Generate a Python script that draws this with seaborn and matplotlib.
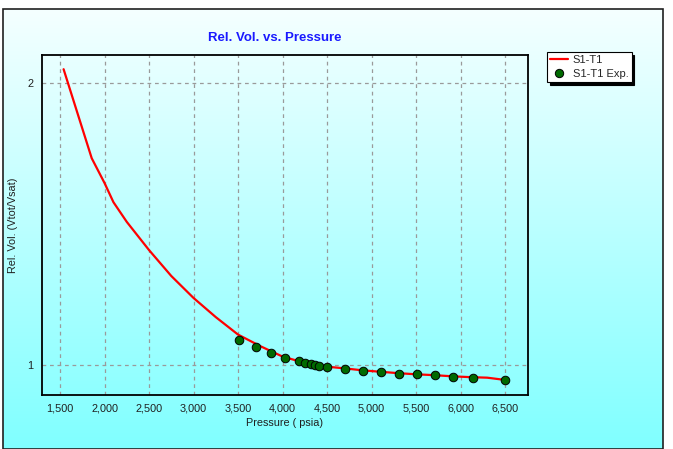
import numpy as np
import pandas as pd
import matplotlib
matplotlib.use("Agg")
import matplotlib.pyplot as plt
import seaborn as sns
from matplotlib.patches import Rectangle
from matplotlib.lines import Line2D

# ---- data ----
sim_pressure = [1540, 1856, 2000, 2100, 2250, 2500, 2750, 3000, 3250, 3500, 3750,
                4000, 4200, 4400, 4500, 4700, 4900, 5100, 5300, 5500, 5700,
                5900, 6100, 6300, 6500]
sim_relvol = [2.050, 1.734, 1.646, 1.578, 1.508, 1.408, 1.316, 1.238, 1.170, 1.108, 1.067,
              1.030, 1.012, 1.000, 0.994, 0.988, 0.981, 0.976, 0.971, 0.967, 0.964,
              0.960, 0.957, 0.955, 0.947]
exp_pressure = [3511, 3702, 3867, 4028, 4182, 4257, 4317, 4369, 4407, 4496, 4698,
                4901, 5110, 5312, 5511, 5710, 5912, 6144, 6503]
exp_relvol = [1.089, 1.063, 1.044, 1.026, 1.014, 1.007, 1.0035, 1.001, 0.9975, 0.992, 0.987,
              0.980, 0.976, 0.969, 0.967, 0.963, 0.958, 0.955, 0.947]
x_ticks = [1500, 2000, 2500, 3000, 3500, 4000, 4500, 5000, 5500, 6000, 6500]
y_ticks = [1, 2]

sim_df = pd.DataFrame({"Pressure": sim_pressure, "RelVol": sim_relvol})
exp_df = pd.DataFrame({"Pressure": exp_pressure, "RelVol": exp_relvol})

sns.set_style("white")
plt.rcParams['font.family'] = ['Liberation Sans', 'DejaVu Sans']

W, H = 673, 449
fig = plt.figure(figsize=(W / 100, H / 100), dpi=100)
fig.patch.set_facecolor("white")

# background gradient panel
bg = fig.add_axes([3 / W, 0, 660 / W, (H - 9) / H], zorder=0)
top = np.array([245, 255, 255]) / 255
bot = np.array([128, 255, 255]) / 255
t = np.linspace(0, 1, 256)[:, None]
grad = (top[None, :] * (1 - t) + bot[None, :] * t)[:, None, :]
bg.imshow(grad, aspect="auto", extent=[0, 1, 0, 1])
bg.set_xlim(0, 1)
bg.set_ylim(0, 1)
bg.axis("off")
fig.patches.append(Rectangle((3 / W, 0), 660 / W, (H - 9) / H, transform=fig.transFigure,
                             fill=False, edgecolor="#202020", linewidth=1.2, zorder=5))

ax = fig.add_axes([41.7 / W, 1 - 395 / H, 486 / W, 340.3 / H], zorder=2)
ax.patch.set_alpha(0)

sns.lineplot(data=sim_df, x="Pressure", y="RelVol", ax=ax, color="#FF0000",
             linewidth=1.6, sort=False, zorder=3, legend=False)
sns.scatterplot(data=exp_df, x="Pressure", y="RelVol", ax=ax, color="#006A00",
                edgecolor="black", linewidth=0.7, s=38, zorder=4, legend=False)

ax.set_xlim(1294, 6755)
ax.set_ylim(0.8935, 2.1015)
ax.set_xticks(x_ticks)
ax.set_xticklabels([f"{v:,}" for v in x_ticks])
ax.set_yticks(y_ticks)
ax.set_yticklabels([str(v) for v in y_ticks])
ax.tick_params(axis="both", labelsize=7.8, colors="#202020", length=3, width=0.8,
               direction="out", pad=3)
ax.tick_params(axis="both", color="#909090")
ax.grid(True, color="#9A9A9A", linestyle=(0, (3, 3)), linewidth=0.9)
for s in ax.spines.values():
    s.set_color("black")
    s.set_linewidth(1.3)

ax.set_xlabel("Pressure ( psia)", fontsize=7.8, color="#202020", labelpad=3)
ax.set_ylabel("Rel. Vol. (Vtot/Vsat)", fontsize=7.8, color="#202020")
ax.yaxis.set_label_coords((18 - 41.7) / 486, 0.5)

fig.text(275 / W, 1 - 38 / H, "Rel. Vol. vs. Pressure", ha="center", va="center",
         fontsize=9.5, fontweight="bold", color="#1A1AFF",
         family=['Liberation Sans Narrow', 'Liberation Sans', 'DejaVu Sans'])

handles = [Line2D([], [], color="#FF0000", linewidth=1.6, label="S1-T1"),
           Line2D([], [], color="#006A00", marker="o", markeredgecolor="black",
                  markeredgewidth=0.7, markersize=6, linestyle="none", label="S1-T1 Exp.")]
leg = fig.legend(handles=handles, loc="upper left",
                 bbox_to_anchor=(547 / W, 1 - 52 / H), fontsize=8,
                 frameon=True, fancybox=False, shadow={"color": "black", "alpha": 1},
                 edgecolor="black", facecolor="white", framealpha=1,
                 borderpad=0.3, labelspacing=0.3, handlelength=1.6, handletextpad=0.4,
                 borderaxespad=0)
leg.get_frame().set_linewidth(0.8)
leg.set_zorder(6)

fig.savefig("out.png", dpi=100)
